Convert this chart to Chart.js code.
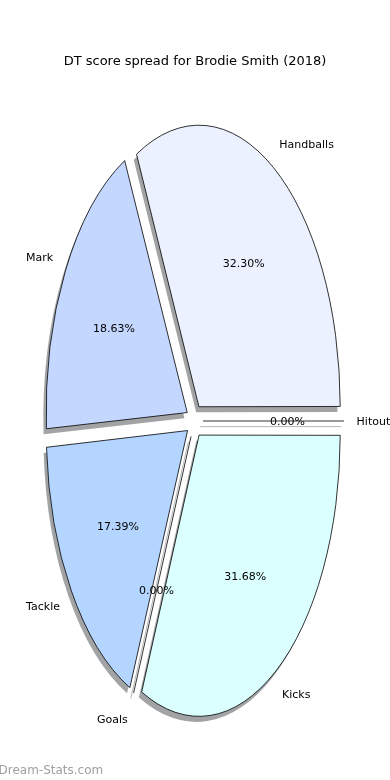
<!DOCTYPE html>
<html>
<head>
<meta charset="utf-8">
<script src="https://cdn.jsdelivr.net/npm/chart.js@4"></script>
<style>
  html, body { margin: 0; padding: 0; background: #fff; }
  #wrap { width: 390px; height: 780px; }
</style>
</head>
<body>
<div id="wrap"><canvas id="pie" width="390" height="780"></canvas></div>
<script>
// values as printed on the chart (percent of DT score), counter-clockwise from 3 o'clock
const categories = ['Handballs', 'Mark', 'Tackle', 'Goals', 'Kicks', 'Hitout'];
const shares = [32.30, 18.63, 17.39, 0.00, 31.68, 0.00];
const sliceColors = ['#ebf1ff', '#c4d7ff', '#b4d5ff', '#b4d5ff', '#dbffff', '#dbffff'];

// chart.js goes clockwise, so feed it reversed
const labels = categories.slice().reverse();
const values = shares.slice().reverse();
const colors = sliceColors.slice().reverse();

const FONT = "'DejaVu Sans', sans-serif";
const CX = 194.5, CY = 421;   // centre of the (squashed) pie
const RX = 140.4, RY = 279.8; // half width / half height used for the wedges
const LRX = 141, LRY = 281;   // same, used for text and zero lines
const R = 100;                // radius chart.js draws with
const EXPLODE = 0.06;         // fraction of radius every slice is pulled out
const SHADOW = 'rgba(70, 72, 76, 0.5)';

function toScreen(arc, px, py) {
  return [CX + (px - arc.x) * LRX / arc.outerRadius, CY + (py - arc.y) * LRY / arc.outerRadius];
}

// stretch the round pie into an ellipse, keep strokes in device pixels
const ellipsePlugin = {
  id: 'ellipse',
  beforeDatasetsDraw(chart) {
    const ctx = chart.ctx;
    const arc = chart.getDatasetMeta(0).data[0];
    ctx.save();
    ctx.translate(CX, CY);
    ctx.scale(RX / arc.outerRadius, RY / arc.outerRadius);
    ctx.translate(-arc.x, -arc.y);
    ctx.shadowColor = SHADOW;
    ctx.shadowBlur = 0;
    ctx.shadowOffsetX = -2.8;
    ctx.shadowOffsetY = 5.6;
    const stroke = ctx.stroke;
    ctx._origStroke = stroke;
    ctx.stroke = function () {
      this.save();
      this.setTransform(1, 0, 0, 1, 0, 0);
      this.shadowColor = 'rgba(0, 0, 0, 0)';
      stroke.apply(this, arguments);
      this.restore();
    };
  },
  afterDatasetsDraw(chart) {
    const ctx = chart.ctx;
    ctx.stroke = ctx._origStroke;
    ctx.restore();

    const meta = chart.getDatasetMeta(0);
    const off = EXPLODE * R;

    // zero slices are drawn as a single edge line, like matplotlib does
    meta.data.forEach((arc, i) => {
      if (values[i] !== 0) return;
      const a = arc.startAngle;
      const p0 = toScreen(arc, arc.x + Math.cos(a) * off, arc.y + Math.sin(a) * off);
      const p1 = toScreen(arc, arc.x + Math.cos(a) * (off + R), arc.y + Math.sin(a) * (off + R));
      ctx.save();
      ctx.lineWidth = 0.8;
      ctx.strokeStyle = SHADOW;
      ctx.beginPath();
      ctx.moveTo(p0[0] - 2.8, p0[1] + 5.6);
      ctx.lineTo(p1[0] - 2.8, p1[1] + 5.6);
      ctx.stroke();
      ctx.strokeStyle = '#000';
      ctx.beginPath();
      ctx.moveTo(p0[0], p0[1]);
      ctx.lineTo(p1[0], p1[1]);
      ctx.stroke();
      ctx.restore();
    });

    // slice names and percentages
    ctx.save();
    ctx.font = '11px ' + FONT;
    ctx.fillStyle = '#000';
    ctx.textBaseline = 'middle';
    meta.data.forEach((arc, i) => {
      const mid = (arc.startAngle + arc.endAngle) / 2;
      const c = Math.cos(mid), s = Math.sin(mid);
      const lp = toScreen(arc, arc.x + c * (off + 1.1 * R), arc.y + s * (off + 1.1 * R));
      ctx.textAlign = c > 0 ? 'left' : 'right';
      ctx.fillText(labels[i], c > 0 ? lp[0] - 1.5 : lp[0], lp[1] + 1);
      const pp = toScreen(arc, arc.x + c * (off + 0.6 * R), arc.y + s * (off + 0.6 * R));
      ctx.textAlign = 'center';
      ctx.fillText(values[i].toFixed(2) + '%', pp[0], pp[1] + 1);
    });
    ctx.restore();
  },
  afterDraw(chart) {
    const ctx = chart.ctx;
    ctx.save();
    ctx.font = '12px ' + FONT;
    ctx.fillStyle = '#a0a0a0';
    ctx.textAlign = 'left';
    ctx.textBaseline = 'middle';
    ctx.fillText('Dream-Stats.com', -1.5, 771);
    ctx.restore();
  }
};

new Chart(document.getElementById('pie'), {
  type: 'pie',
  data: {
    labels,
    datasets: [{
      data: values,
      backgroundColor: colors,
      borderColor: '#000',
      borderWidth: 0.8,
      borderJoinStyle: 'miter',
      offset: EXPLODE * R * 4
    }]
  },
  options: {
    responsive: false,
    devicePixelRatio: 1,
    animation: false,
    events: [],
    rotation: 90,
    radius: R,
    plugins: {
      legend: { display: false },
      tooltip: { enabled: false },
      title: {
        display: true,
        text: 'DT score spread for Brodie Smith (2018)',
        color: '#000',
        font: { family: FONT, size: 13, weight: 'normal' },
        padding: { top: 54, bottom: 10 }
      }
    }
  },
  plugins: [ellipsePlugin]
});
</script>
</body>
</html>
